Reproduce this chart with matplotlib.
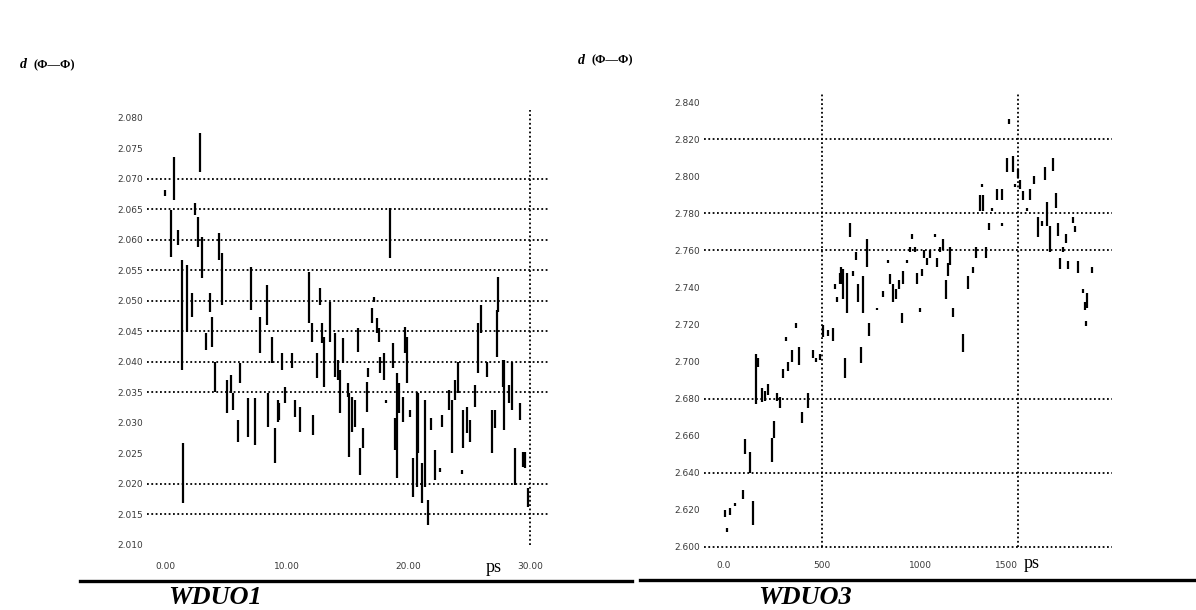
import matplotlib
matplotlib.use("Agg")
import matplotlib.pyplot as plt
from matplotlib.lines import Line2D

# ---- WDUO1 : bond distance vs. time ----
wduo1_t = [0.0, 0.5, 0.7, 1.1, 1.4, 1.5, 1.8, 2.2, 2.5, 2.7,
           2.9, 3.0, 3.4, 3.7, 3.9, 4.1, 4.4, 4.7, 5.1, 5.4,
           5.6, 6.0, 6.2, 6.8, 7.1, 7.4, 7.8, 8.4, 8.5, 8.8,
           9.0, 9.3, 9.6, 9.9, 9.4, 10.4, 10.7, 11.1, 11.8, 12.1,
           12.2, 12.5, 12.7, 12.9, 13.1, 13.6, 14.0, 14.2, 14.4, 14.6,
           15.0, 15.1, 15.4, 15.6, 15.9, 16.0, 16.3, 16.6, 16.7, 17.0,
           17.2, 17.4, 17.6, 17.7, 18.0, 18.5, 18.2, 18.7, 18.9, 19.1,
           19.2, 19.6, 19.7, 19.9, 20.1, 20.4, 20.7, 20.8, 21.1, 21.4,
           21.6, 21.9, 22.2, 22.6, 22.8, 23.3, 23.6, 23.8, 24.1, 24.4,
           24.5, 24.8, 25.1, 25.5, 25.7, 26.0, 26.5, 26.9, 27.1, 27.3,
           27.4, 27.8, 27.9, 28.3, 28.5, 28.8, 29.2, 29.4, 29.6, 29.8]
wduo1_hi = [2.0682, 2.0649, 2.0736, 2.0616, 2.0567, 2.0267, 2.0559, 2.0513, 2.0661, 2.0638,
            2.0775, 2.0605, 2.0448, 2.0513, 2.0474, 2.0400, 2.0611, 2.0579, 2.0370, 2.0379,
            2.0349, 2.0305, 2.0398, 2.0341, 2.0556, 2.0341, 2.0474, 2.0526, 2.0349, 2.0441,
            2.0292, 2.0338, 2.0415, 2.0359, 2.0333, 2.0415, 2.0338, 2.0326, 2.0548, 2.0464,
            2.0313, 2.0415, 2.0521, 2.0464, 2.0441, 2.0498, 2.0448, 2.0403, 2.0387, 2.0439,
            2.0366, 2.0349, 2.0343, 2.0338, 2.0456, 2.0259, 2.0292, 2.0367, 2.0390, 2.0489,
            2.0507, 2.0472, 2.0456, 2.0408, 2.0415, 2.0652, 2.0338, 2.0431, 2.0308, 2.0382,
            2.0366, 2.0343, 2.0457, 2.0441, 2.0321, 2.0243, 2.0351, 2.0349, 2.0234, 2.0338,
            2.0174, 2.0308, 2.0256, 2.0226, 2.0313, 2.0354, 2.0338, 2.0370, 2.0400, 2.0223,
            2.0321, 2.0326, 2.0305, 2.0362, 2.0464, 2.0493, 2.0400, 2.0321, 2.0321, 2.0485,
            2.0539, 2.0403, 2.0403, 2.0362, 2.0400, 2.0259, 2.0333, 2.0252, 2.0252, 2.0193]
wduo1_lo = [2.0672, 2.0572, 2.0666, 2.0592, 2.0387, 2.0169, 2.0449, 2.0474, 2.0641, 2.0589,
            2.0711, 2.0538, 2.0420, 2.0482, 2.0425, 2.0351, 2.0567, 2.0493, 2.0316, 2.0349,
            2.0321, 2.0269, 2.0366, 2.0277, 2.0485, 2.0264, 2.0415, 2.0461, 2.0293, 2.0398,
            2.0234, 2.0302, 2.0387, 2.0333, 2.0305, 2.0390, 2.0310, 2.0285, 2.0464, 2.0433,
            2.0280, 2.0374, 2.0493, 2.0431, 2.0359, 2.0433, 2.0375, 2.0370, 2.0316, 2.0398,
            2.0343, 2.0244, 2.0285, 2.0293, 2.0416, 2.0215, 2.0259, 2.0318, 2.0375, 2.0464,
            2.0498, 2.0448, 2.0433, 2.0382, 2.0370, 2.0570, 2.0333, 2.0390, 2.0256, 2.0210,
            2.0316, 2.0302, 2.0415, 2.0366, 2.0310, 2.0179, 2.0195, 2.0251, 2.0169, 2.0195,
            2.0133, 2.0289, 2.0207, 2.0220, 2.0293, 2.0321, 2.0251, 2.0338, 2.0349, 2.0216,
            2.0259, 2.0284, 2.0269, 2.0326, 2.0382, 2.0448, 2.0375, 2.0251, 2.0292, 2.0408,
            2.0482, 2.0359, 2.0289, 2.0333, 2.0321, 2.0198, 2.0305, 2.0228, 2.0226, 2.0162]
wduo1_yticks = [2.080, 2.075, 2.070, 2.065, 2.060, 2.055, 2.050, 2.045,
                2.040, 2.035, 2.030, 2.025, 2.020, 2.015, 2.010]
wduo1_ygrid = [2.070, 2.065, 2.060, 2.055, 2.050, 2.045, 2.040, 2.035, 2.020, 2.015]
wduo1_xticks = [0, 10, 20, 30]
wduo1_xlabels = ["0.00", "10.00", "20.00", "30.00"]
wduo1_xgrid = [30]

# ---- WDUO3 ----
wduo3_t = [5, 15, 31, 56, 97, 107, 133, 148, 163, 173,
           194, 209, 224, 245, 255, 270, 286, 301, 316, 327,
           347, 367, 383, 398, 429, 454, 469, 490, 505, 531,
           556, 566, 577, 592, 597, 607, 617, 628, 643, 658,
           673, 684, 699, 709, 730, 740, 781, 811, 837, 847,
           862, 878, 893, 908, 913, 934, 949, 959, 974, 985,
           1000, 1010, 1020, 1036, 1051, 1077, 1087, 1102, 1117, 1133,
           1143, 1153, 1168, 1219, 1245, 1270, 1286, 1306, 1316, 1321,
           1337, 1352, 1367, 1393, 1418, 1420, 1444, 1454, 1474, 1485,
           1500, 1510, 1526, 1546, 1561, 1582, 1602, 1622, 1638, 1648,
           1663, 1679, 1694, 1704, 1714, 1730, 1745, 1755, 1781, 1791,
           1806, 1832, 1842, 1852, 1847, 1878]
wduo3_hi = [2.620, 2.610, 2.621, 2.624, 2.631, 2.658, 2.651, 2.625, 2.704, 2.702,
            2.686, 2.684, 2.688, 2.659, 2.668, 2.683, 2.681, 2.696, 2.713, 2.700,
            2.706, 2.721, 2.708, 2.673, 2.683, 2.706, 2.702, 2.704, 2.720, 2.717,
            2.718, 2.742, 2.735, 2.748, 2.751, 2.750, 2.702, 2.748, 2.775, 2.749,
            2.759, 2.742, 2.708, 2.746, 2.766, 2.721, 2.729, 2.738, 2.755, 2.747,
            2.742, 2.739, 2.744, 2.726, 2.749, 2.755, 2.762, 2.769, 2.762, 2.748,
            2.729, 2.750, 2.760, 2.756, 2.760, 2.769, 2.756, 2.762, 2.766, 2.744,
            2.753, 2.762, 2.729, 2.715, 2.746, 2.751, 2.762, 2.790, 2.796, 2.790,
            2.762, 2.775, 2.783, 2.793, 2.793, 2.775, 2.810, 2.831, 2.811, 2.796,
            2.804, 2.798, 2.792, 2.783, 2.793, 2.800, 2.778, 2.776, 2.805, 2.786,
            2.773, 2.810, 2.791, 2.775, 2.756, 2.762, 2.769, 2.754, 2.778, 2.773,
            2.754, 2.739, 2.732, 2.737, 2.722, 2.751]
wduo3_lo = [2.616, 2.608, 2.617, 2.622, 2.626, 2.650, 2.640, 2.612, 2.677, 2.697,
            2.678, 2.679, 2.682, 2.646, 2.659, 2.679, 2.675, 2.691, 2.711, 2.695,
            2.700, 2.718, 2.698, 2.667, 2.675, 2.702, 2.700, 2.701, 2.713, 2.714,
            2.711, 2.739, 2.732, 2.742, 2.742, 2.734, 2.691, 2.726, 2.767, 2.746,
            2.755, 2.732, 2.699, 2.726, 2.751, 2.714, 2.728, 2.735, 2.753, 2.742,
            2.732, 2.734, 2.739, 2.721, 2.742, 2.753, 2.759, 2.766, 2.759, 2.742,
            2.727, 2.746, 2.756, 2.752, 2.756, 2.767, 2.751, 2.759, 2.760, 2.734,
            2.746, 2.752, 2.724, 2.705, 2.739, 2.748, 2.756, 2.781, 2.794, 2.781,
            2.756, 2.771, 2.781, 2.787, 2.787, 2.773, 2.802, 2.828, 2.802, 2.794,
            2.799, 2.793, 2.787, 2.781, 2.787, 2.796, 2.767, 2.773, 2.798, 2.773,
            2.759, 2.803, 2.783, 2.768, 2.750, 2.759, 2.764, 2.750, 2.775, 2.770,
            2.748, 2.737, 2.728, 2.729, 2.719, 2.748]
wduo3_yticks = [2.840, 2.820, 2.800, 2.780, 2.760, 2.740, 2.720,
                2.700, 2.680, 2.660, 2.640, 2.620, 2.600]
wduo3_ygrid = [2.820, 2.780, 2.760, 2.680, 2.640, 2.600]
wduo3_xticks = [0, 500, 1000, 1500]
wduo3_xlabels = ["0.0", "500", "1000", "1500"]
wduo3_xgrid = [500, 1500]

W, H = 1196, 610
fig = plt.figure(figsize=(W / 100, H / 100), dpi=100)
fig.patch.set_facecolor("white")

SERIF = ["Liberation Serif", "DejaVu Serif"]
DOT = (0, (1.0, 1.4))


def px_axes(x0, x1, ytop, ybot):
    return fig.add_axes([x0 / W, 1 - ybot / H, (x1 - x0) / W, (ybot - ytop) / H])


def draw_panel(ax, t, hi, lo, xlim, ylim, yticks, ygrid, xticks, xlabels, xgrid, yfmt):
    ax.set_facecolor("none")
    for s in ax.spines.values():
        s.set_visible(False)
    for g in ygrid:
        ax.axhline(g, color="black", lw=1.3, ls=DOT, zorder=1, clip_on=False)
    for g in xgrid:
        ax.axvline(g, color="black", lw=1.3, ls=DOT, zorder=1, clip_on=False)
    ax.vlines(t, lo, hi, color="black", lw=1.6, zorder=3)
    ax.set_xlim(*xlim)
    ax.set_ylim(*ylim)
    ax.set_yticks(yticks)
    ax.set_yticklabels([yfmt.format(v) for v in yticks])
    ax.set_xticks(xticks)
    ax.set_xticklabels(xlabels)
    ax.tick_params(length=0, labelsize=6.5, labelcolor="#3a3a3a", pad=3)


ax1 = px_axes(147, 550, 110, 545)
draw_panel(ax1, wduo1_t, wduo1_hi, wduo1_lo, (-1.48, 31.64), (2.010, 2.0813),
           wduo1_yticks, wduo1_ygrid, wduo1_xticks, wduo1_xlabels, wduo1_xgrid, "{:.3f}")
ax1.tick_params(axis="x", pad=12)

ax2 = px_axes(704, 1112, 92, 547)
draw_panel(ax2, wduo3_t, wduo3_hi, wduo3_lo, (-102, 1980), (2.600, 2.8454),
           wduo3_yticks, wduo3_ygrid, wduo3_xticks, wduo3_xlabels, wduo3_xgrid, "{:.3f}")
ax2.tick_params(axis="x", pad=10)
# "1500" sits just left of its gridline so the unit fits beside it
ax2.get_xticklabels()[-1].set_horizontalalignment("right")
ax2.get_xticklabels()[-1].set_x(1500)


def fig_text(x, y, s, **kw):
    fig.text(x / W, 1 - y / H, s, **kw)


# axis captions
fig_text(20, 65, "d", family=SERIF, style="italic", weight="bold", size=10, va="center")
fig_text(33, 65, "(\u03a6\u2014\u03a6)", family=SERIF, weight="bold", size=9, va="center")
fig_text(578, 60, "d", family=SERIF, style="italic", weight="bold", size=10, va="center")
fig_text(591, 60, "(\u03a6\u2014\u03a6)", family=SERIF, weight="bold", size=9, va="center")

fig_text(486, 568, "ps", family=SERIF, size=13, va="center")
fig_text(1024, 564, "ps", family=SERIF, size=13, va="center")

# underlines and panel names
fig.add_artist(Line2D([80 / W, 632 / W], [1 - 581 / H] * 2, color="black", lw=2.4))
fig.add_artist(Line2D([640 / W, 1196 / W], [1 - 580 / H] * 2, color="black", lw=2.4))
fig_text(215, 609, "WDUO1", family=SERIF, style="italic", weight="bold", size=19,
         ha="center", va="bottom")
fig_text(805, 609, "WDUO3", family=SERIF, style="italic", weight="bold", size=19,
         ha="center", va="bottom")

fig.savefig("out.png", dpi=100)
